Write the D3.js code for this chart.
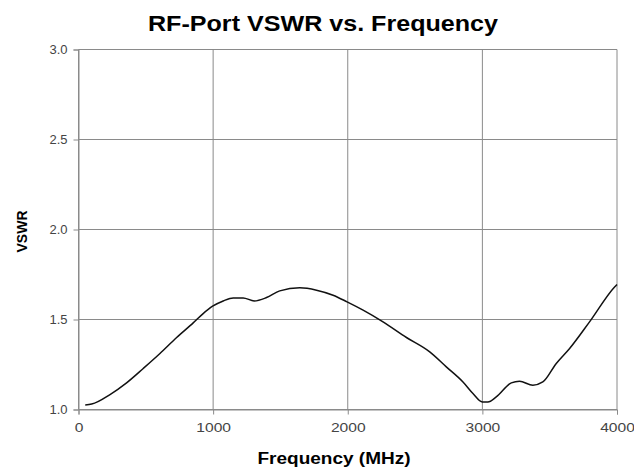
<!DOCTYPE html>
<html><head><meta charset="utf-8">
<script src="https://cdn.jsdelivr.net/npm/d3@7"></script>
<style>body{margin:0;background:#fff}svg{display:block}</style>
</head><body><svg id="c" width="634" height="468"></svg>
<script>
const freqMHz = [50,98,234,357,481,605,729,852,926,996,1075,1149,1223,1305,1397,1495,1644,1768,1891,1995,2114,2262,2436,2609,2732,2856,2930,3000,3041,3103,3215,3276,3375,3449,3549,3648,3796,3982,4000];
const vswr    = [1.025,1.03,1.083,1.148,1.228,1.311,1.40,1.481,1.533,1.574,1.603,1.62,1.62,1.603,1.622,1.659,1.676,1.663,1.635,1.598,1.552,1.487,1.40,1.32,1.237,1.153,1.089,1.042,1.042,1.07,1.148,1.157,1.135,1.153,1.256,1.339,1.487,1.681,1.695];
const xTicks = [0,1000,2000,3000,4000];
const yTicks = [1.0,1.5,2.0,2.5,3.0];
const title = "RF-Port VSWR vs. Frequency";
const xLabel = "Frequency (MHz)";
const yLabel = "VSWR";

const svg = d3.select("#c");
const x = d3.scaleLinear().domain([0,4000]).range([78.5,617]);
const y = d3.scaleLinear().domain([1,3]).range([409.5,49.5]);
const font = "'Liberation Sans', Arial, sans-serif";

// grid
svg.append("g").selectAll("line").data(yTicks).join("line")
  .attr("x1",x(0)).attr("x2",x(4000)).attr("y1",d=>y(d)).attr("y2",d=>y(d))
  .attr("stroke","#8a8a8a").attr("stroke-width",1);
svg.append("g").selectAll("line").data(xTicks).join("line")
  .attr("x1",d=>x(d)).attr("x2",d=>x(d)).attr("y1",y(1)).attr("y2",y(3))
  .attr("stroke","#8a8a8a").attr("stroke-width",1);

const xa = svg.append("g").attr("transform",`translate(0,${y(1)})`)
  .call(d3.axisBottom(x).tickValues(xTicks).tickFormat(d3.format("d")).tickSize(5).tickPadding(8));
const ya = svg.append("g").attr("transform",`translate(${x(0)},0)`)
  .call(d3.axisLeft(y).tickValues(yTicks).tickFormat(d3.format(".1f")).tickSize(5).tickPadding(6));
[xa,ya].forEach(a=>{
  a.select(".domain").attr("stroke","#8a8a8a");
  a.selectAll(".tick line").attr("stroke","#8a8a8a");
  a.selectAll("text").attr("fill","#444").style("font-family",font).style("font-size","13px");
});
// widen x tick labels slightly like the reference
xa.selectAll("text").each(function(){
  const w = this.getComputedTextLength();
  d3.select(this).attr("textLength", w*1.2).attr("lengthAdjust","spacingAndGlyphs");
});

const line = d3.line().x((d,i)=>x(freqMHz[i])).y(d=>y(d)).curve(d3.curveMonotoneX);
svg.append("path").datum(vswr).attr("d",line).attr("fill","none").attr("stroke","#111").attr("stroke-width",1.5);

svg.append("text").attr("x",323).attr("y",31).attr("text-anchor","middle")
  .attr("textLength",350).attr("lengthAdjust","spacingAndGlyphs")
  .style("font-family",font).style("font-weight","bold").style("font-size","22px").text(title);
svg.append("text").attr("x",334).attr("y",464).attr("text-anchor","middle")
  .attr("textLength",153).attr("lengthAdjust","spacingAndGlyphs")
  .style("font-family",font).style("font-weight","bold").style("font-size","16px").text(xLabel);
svg.append("text").attr("transform",`translate(27,${y(2)+2}) rotate(-90)`).attr("text-anchor","middle")
  .style("font-family",font).style("font-weight","bold").style("font-size","14px").text(yLabel);
</script></body></html>
